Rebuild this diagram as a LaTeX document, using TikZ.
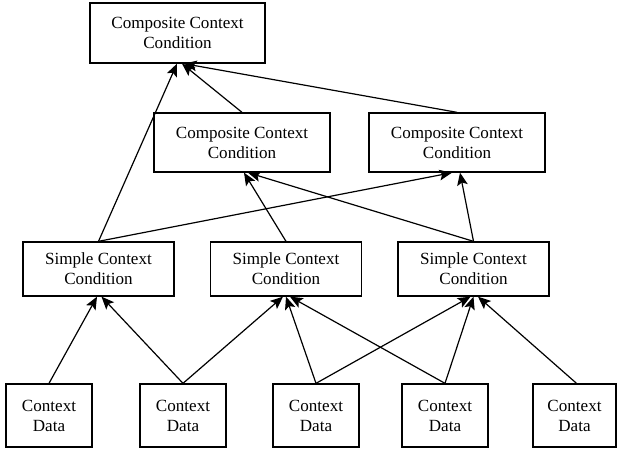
\documentclass[tikz,border=0pt]{standalone}
\usepackage{fontspec}
\setmainfont{Liberation Serif}
\usetikzlibrary{arrows.meta,calc}
\tikzset{
  box/.style={draw, line width=1pt, align=center, inner sep=0pt, font=\fontsize{12.8}{15}\selectfont},
  topbox/.style={box, minimum width=131.25pt, minimum height=45pt},
  compbox/.style={box, minimum width=132pt, minimum height=44.25pt},
  simpbox/.style={box, minimum width=113.25pt, minimum height=40.5pt},
  databox/.style={box, minimum width=64.5pt, minimum height=47.25pt},
  arr/.style={line width=0.9pt, -{Stealth[length=9.5pt,width=8pt,inset=2pt]}}
}
\begin{document}
\begin{tikzpicture}[x=0.75pt,y=-0.75pt]
\useasboundingbox (0,0) rectangle (617,450);
\node[topbox] (top) at (177.5,33) {Composite Context\\Condition};
\node[compbox] (c1) at (242,142.5) {Composite Context\\Condition};
\node[compbox] (c2) at (457,142.5) {Composite Context\\Condition};
\node[simpbox] (s1) at (98.5,269) {Simple Context\\Condition};
\node[simpbox] (s2) at (286,269) {Simple Context\\Condition};
\node[simpbox] (s3) at (473.5,269) {Simple Context\\Condition};
\node[databox] (d1) at (49,415.5) {Context\\Data};
\node[databox] (d2) at (183,415.5) {Context\\Data};
\node[databox] (d3) at (316,415.5) {Context\\Data};
\node[databox] (d4) at (445,415.5) {Context\\Data};
\node[databox, minimum width=62.25pt] (d5) at (574.5,415.5) {Context\\Data};
% data to simple
\draw[arr] (d1.north) -- ($(s1.south)+(-1.5,0)$);
\draw[arr] (d2.north) -- ($(s1.south)+(3,0)$);
\draw[arr] (d2.north) -- ($(s2.south)+(-3,0)$);
\draw[arr] (d3.north) -- ($(s2.south)+(0,0)$);
\draw[arr] (d4.north) -- ($(s2.south)+(4,0)$);
\draw[arr] (d3.north) -- ($(s3.south)+(-3,0)$);
\draw[arr] (d4.north) -- ($(s3.south)+(0,0)$);
\draw[arr] ($(d5.north)+(2,0)$) -- ($(s3.south)+(4.5,0)$);
% simple to composite
\draw[arr] (s1.north) -- ($(top.south)+(-0.5,0)$);
\draw[arr] (s1.north) -- ($(c2.south)+(-5,0)$);
\draw[arr] (s2.north) -- ($(c1.south)+(2,0)$);
\draw[arr] (s3.north) -- ($(c1.south)+(6,0)$);
\draw[arr] (s3.north) -- ($(c2.south)+(3,0)$);
% composite to top
\draw[arr] (c1.north) -- ($(top.south)+(4.5,0)$);
\draw[arr] (c2.north) -- ($(top.south)+(6.5,0)$);
\end{tikzpicture}
\end{document}
